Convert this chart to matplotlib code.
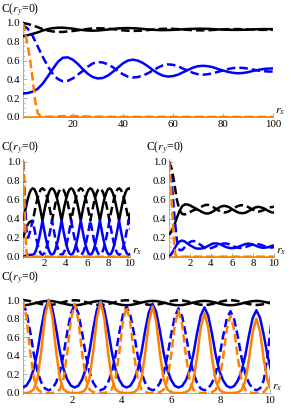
import numpy as np
import matplotlib
matplotlib.use("Agg")
import matplotlib.pyplot as plt
from matplotlib.ticker import MultipleLocator, FormatStrFormatter

plt.rcParams['font.family'] = ['Liberation Serif', 'DejaVu Serif']
plt.rcParams['mathtext.fontset'] = 'stix'

ORANGE = '#ff8000'

# ---------------- panel 1 : r_x from 0 to 100 ----------------
x1 = np.linspace(0, 100, 51)
bs1 = [0.86, 0.87, 0.885, 0.90, 0.92, 0.935, 0.945, 0.95, 0.95, 0.945, 0.94, 0.93, 0.925,
       0.92, 0.918, 0.92, 0.925, 0.93, 0.937, 0.942, 0.945, 0.946, 0.945, 0.942, 0.937,
       0.932, 0.928, 0.925, 0.924, 0.925, 0.927, 0.93, 0.933, 0.936, 0.938, 0.939, 0.939,
       0.938, 0.935, 0.932, 0.93, 0.928, 0.927, 0.927, 0.928, 0.93, 0.932, 0.934, 0.935,
       0.935, 0.934]
bd1 = [1.0, 0.99, 0.975, 0.955, 0.935, 0.92, 0.91, 0.905, 0.905, 0.91, 0.915, 0.922, 0.93,
       0.937, 0.942, 0.944, 0.943, 0.94, 0.935, 0.928, 0.922, 0.918, 0.916, 0.917, 0.92,
       0.925, 0.93, 0.935, 0.938, 0.939, 0.938, 0.935, 0.931, 0.927, 0.924, 0.922, 0.922,
       0.923, 0.926, 0.929, 0.932, 0.934, 0.935, 0.935, 0.934, 0.932, 0.93, 0.928, 0.927,
       0.927, 0.928]
ls1 = [0.25, 0.255, 0.27, 0.30, 0.355, 0.43, 0.51, 0.585, 0.63, 0.635, 0.61, 0.565, 0.51,
       0.46, 0.425, 0.41, 0.415, 0.44, 0.48, 0.525, 0.57, 0.6, 0.61, 0.6, 0.575, 0.54, 0.5,
       0.465, 0.44, 0.43, 0.435, 0.45, 0.475, 0.5, 0.525, 0.54, 0.545, 0.54, 0.53, 0.51,
       0.495, 0.48, 0.47, 0.465, 0.468, 0.477, 0.49, 0.5, 0.51, 0.515, 0.517]
ld1 = [0.98, 0.94, 0.86, 0.75, 0.64, 0.54, 0.46, 0.405, 0.38, 0.385, 0.41, 0.45, 0.49,
       0.535, 0.57, 0.585, 0.58, 0.56, 0.53, 0.49, 0.455, 0.43, 0.42, 0.425, 0.44, 0.465,
       0.495, 0.525, 0.55, 0.56, 0.555, 0.54, 0.515, 0.495, 0.47, 0.455, 0.45, 0.455, 0.465,
       0.48, 0.495, 0.51, 0.52, 0.525, 0.522, 0.515, 0.505, 0.495, 0.488, 0.484, 0.483]
xo1 = [0, 1, 2, 3, 4, 5, 6, 7, 8, 10, 15, 20, 25, 30, 40, 50, 60, 70, 80, 90, 100]
od1 = [1.0, 0.9, 0.76, 0.6, 0.4, 0.17, 0.04, 0.012, 0.004, 0.002, 0.008, 0.01, 0.006, 0.002,
       0.002, 0.002, 0.001, 0.001, 0.001, 0.001, 0.001]

# ---------------- panel 2 : r_x from 0 to 10 ----------------
x2 = np.linspace(0, 10.05, 68)
bs2 = [0.38, 0.468, 0.55, 0.62, 0.674, 0.708, 0.72, 0.708, 0.674, 0.62, 0.55, 0.468,
       0.38, 0.468, 0.55, 0.62, 0.674, 0.708, 0.72, 0.708, 0.674, 0.62, 0.55, 0.468,
       0.38, 0.468, 0.55, 0.62, 0.674, 0.708, 0.72, 0.708, 0.674, 0.62, 0.55, 0.468,
       0.38, 0.468, 0.55, 0.62, 0.674, 0.708, 0.72, 0.708, 0.674, 0.62, 0.55, 0.468,
       0.38, 0.468, 0.55, 0.62, 0.674, 0.708, 0.72, 0.708, 0.674, 0.62, 0.55, 0.468,
       0.38, 0.468, 0.55, 0.62, 0.674, 0.708, 0.72, 0.708]
bd2 = [0.2, 0.26, 0.31, 0.345, 0.365, 0.375, 0.38,
       0.468, 0.55, 0.62, 0.674, 0.708, 0.72, 0.708, 0.674, 0.62, 0.55, 0.468, 0.38,
       0.468, 0.55, 0.62, 0.674, 0.708, 0.72, 0.708, 0.674, 0.62, 0.55, 0.468, 0.38,
       0.468, 0.55, 0.62, 0.674, 0.708, 0.72, 0.708, 0.674, 0.62, 0.55, 0.468, 0.38,
       0.468, 0.55, 0.62, 0.674, 0.708, 0.72, 0.708, 0.674, 0.62, 0.55, 0.468, 0.38,
       0.468, 0.55, 0.62, 0.674, 0.708, 0.72, 0.708, 0.674, 0.62, 0.55, 0.468, 0.38,
       0.468]
ls2 = [0.0, 0.008, 0.014, 0.018, 0.02, 0.02, 0.02,
       0.032, 0.068, 0.125, 0.2, 0.287, 0.38, 0.287, 0.2, 0.125, 0.068, 0.032, 0.02,
       0.032, 0.068, 0.125, 0.2, 0.287, 0.38, 0.287, 0.2, 0.125, 0.068, 0.032, 0.02,
       0.032, 0.068, 0.125, 0.2, 0.287, 0.38, 0.287, 0.2, 0.125, 0.068, 0.032, 0.02,
       0.032, 0.068, 0.125, 0.2, 0.287, 0.38, 0.287, 0.2, 0.125, 0.068, 0.032, 0.02,
       0.032, 0.068, 0.125, 0.2, 0.287, 0.38, 0.287, 0.2, 0.125, 0.068, 0.032, 0.02,
       0.032]
ld2 = [1.0, 0.6, 0.28, 0.2, 0.25, 0.32, 0.38,
       0.287, 0.2, 0.125, 0.068, 0.032, 0.02, 0.032, 0.068, 0.125, 0.2, 0.287, 0.38,
       0.287, 0.2, 0.125, 0.068, 0.032, 0.02, 0.032, 0.068, 0.125, 0.2, 0.287, 0.38,
       0.287, 0.2, 0.125, 0.068, 0.032, 0.02, 0.032, 0.068, 0.125, 0.2, 0.287, 0.38,
       0.287, 0.2, 0.125, 0.068, 0.032, 0.02, 0.032, 0.068, 0.125, 0.2, 0.287, 0.38,
       0.287, 0.2, 0.125, 0.068, 0.032, 0.02, 0.032, 0.068, 0.125, 0.2, 0.287, 0.38,
       0.287]
xo2 = [0, 0.1, 0.2, 0.3, 0.4, 10]
od2 = [1.0, 0.62, 0.25, 0.06, 0.0, 0.0]

# ---------------- panel 3 : r_x from 0 to 10 ----------------
x3 = np.linspace(0, 10, 41)
bs3 = [0.23, 0.27, 0.33, 0.41, 0.48, 0.53, 0.55, 0.55, 0.54, 0.525, 0.51, 0.495, 0.48,
       0.465, 0.455, 0.455, 0.465, 0.48, 0.5, 0.515, 0.53, 0.535, 0.53, 0.52, 0.5, 0.485,
       0.47, 0.46, 0.458, 0.462, 0.475, 0.49, 0.505, 0.52, 0.525, 0.52, 0.51, 0.495, 0.48,
       0.468, 0.462]
bd3 = [1.0, 0.93, 0.78, 0.6, 0.49, 0.45, 0.445, 0.455, 0.47, 0.485, 0.495, 0.505, 0.52,
       0.535, 0.545, 0.545, 0.535, 0.52, 0.5, 0.485, 0.47, 0.465, 0.47, 0.48, 0.5, 0.515,
       0.53, 0.54, 0.542, 0.538, 0.525, 0.51, 0.495, 0.48, 0.475, 0.48, 0.49, 0.505, 0.515,
       0.522, 0.525]
ls3 = [0.0, 0.03, 0.08, 0.13, 0.16, 0.17, 0.16, 0.14, 0.12, 0.105, 0.09, 0.085, 0.085,
       0.09, 0.1, 0.115, 0.13, 0.14, 0.14, 0.135, 0.125, 0.11, 0.1, 0.092, 0.09, 0.093,
       0.1, 0.11, 0.122, 0.132, 0.137, 0.135, 0.127, 0.117, 0.105, 0.097, 0.094, 0.096,
       0.103, 0.112, 0.12]
ld3 = [1.0, 0.8, 0.45, 0.17, 0.07, 0.07, 0.1, 0.13, 0.155, 0.165, 0.16, 0.145, 0.125,
       0.105, 0.09, 0.085, 0.09, 0.1, 0.112, 0.125, 0.135, 0.14, 0.138, 0.13, 0.118, 0.105,
       0.096, 0.092, 0.094, 0.1, 0.11, 0.12, 0.13, 0.134, 0.132, 0.125, 0.115, 0.105,
       0.098, 0.096, 0.1]
xo3 = [0, 0.15, 0.3, 0.45, 0.6, 0.75, 10]
od3 = [1.0, 0.8, 0.5, 0.2, 0.03, 0.0, 0.0]

# ---------------- panel 4 : r_x from 0 to 10 ----------------
x4 = np.linspace(0, 10.05, 68)
bs4 = [0.944, 0.946, 0.953, 0.962, 0.972, 0.981, 0.988, 0.990, 0.988, 0.981, 0.972, 0.962, 0.953, 0.946,
       0.944, 0.946, 0.953, 0.962, 0.972, 0.981, 0.988, 0.990, 0.988, 0.981, 0.972, 0.962, 0.953, 0.946,
       0.944, 0.946, 0.953, 0.962, 0.972, 0.981, 0.988, 0.990, 0.988, 0.981, 0.972, 0.962, 0.953, 0.946,
       0.944, 0.946, 0.953, 0.962, 0.972, 0.981, 0.988, 0.990, 0.988, 0.981, 0.972, 0.962, 0.953, 0.946,
       0.944, 0.946, 0.953, 0.962, 0.972, 0.981, 0.988, 0.990, 0.988, 0.981, 0.972, 0.962]
bd4 = [0.997, 0.995, 0.988, 0.978, 0.966, 0.956, 0.949, 0.947, 0.949, 0.956, 0.966, 0.978, 0.988, 0.995,
       0.997, 0.995, 0.988, 0.978, 0.966, 0.956, 0.949, 0.947, 0.949, 0.956, 0.966, 0.978, 0.988, 0.995,
       0.997, 0.995, 0.988, 0.978, 0.966, 0.956, 0.949, 0.947, 0.949, 0.956, 0.966, 0.978, 0.988, 0.995,
       0.997, 0.995, 0.988, 0.978, 0.966, 0.956, 0.949, 0.947, 0.949, 0.956, 0.966, 0.978, 0.988, 0.995,
       0.997, 0.995, 0.988, 0.978, 0.966, 0.956, 0.949, 0.947, 0.949, 0.956, 0.966, 0.978]
ls4 = [0.06, 0.079, 0.145, 0.259, 0.449, 0.696, 0.905, 1.0, 0.905, 0.696, 0.449, 0.259, 0.145, 0.079,
       0.059, 0.078, 0.144, 0.257, 0.445, 0.689, 0.896, 0.99, 0.896, 0.689, 0.445, 0.257, 0.144, 0.078,
       0.059, 0.077, 0.141, 0.25, 0.432, 0.669, 0.869, 0.96, 0.869, 0.669, 0.432, 0.25, 0.141, 0.077,
       0.059, 0.076, 0.137, 0.241, 0.415, 0.642, 0.833, 0.92, 0.833, 0.642, 0.415, 0.241, 0.137, 0.076,
       0.058, 0.075, 0.134, 0.235, 0.403, 0.621, 0.806, 0.89, 0.806, 0.621, 0.403, 0.235]
ld4 = [0.97, 0.875, 0.666, 0.419, 0.229, 0.115, 0.049, 0.029,
       0.048, 0.113, 0.225, 0.411, 0.652, 0.857, 0.95, 0.857, 0.652, 0.411, 0.225, 0.113, 0.048, 0.029,
       0.047, 0.111, 0.22, 0.402, 0.639, 0.839, 0.93, 0.839, 0.639, 0.402, 0.22, 0.111, 0.047, 0.029,
       0.047, 0.109, 0.216, 0.394, 0.625, 0.821, 0.91, 0.821, 0.625, 0.394, 0.216, 0.109, 0.047, 0.029,
       0.046, 0.106, 0.209, 0.381, 0.605, 0.794, 0.88, 0.794, 0.605, 0.381, 0.209, 0.106, 0.046, 0.029,
       0.05, 0.14, 0.4, 0.75]
os4 = [0, 0, 0.01, 0.04, 0.16, 0.45, 0.82, 1.0, 0.82, 0.45, 0.16, 0.04, 0.01, 0, 0,
       0, 0.01, 0.04, 0.157, 0.441, 0.804, 0.98, 0.804, 0.441, 0.157, 0.039, 0.01, 0, 0,
       0, 0.009, 0.037, 0.149, 0.419, 0.763, 0.93, 0.763, 0.419, 0.149, 0.037, 0.009, 0, 0,
       0, 0.009, 0.034, 0.138, 0.387, 0.705, 0.86, 0.705, 0.387, 0.138, 0.034, 0.009, 0, 0,
       0, 0.008, 0.032, 0.128, 0.36, 0.656, 0.80, 0.656, 0.36, 0.128, 0.032]
od4 = [1.0, 0.82, 0.45, 0.16, 0.04, 0.01, 0, 0,
       0, 0.01, 0.038, 0.154, 0.432, 0.787, 0.96, 0.787, 0.432, 0.154, 0.038, 0.01, 0, 0,
       0, 0.009, 0.037, 0.149, 0.419, 0.763, 0.93, 0.763, 0.419, 0.149, 0.037, 0.009, 0, 0,
       0, 0.009, 0.036, 0.142, 0.4, 0.73, 0.89, 0.73, 0.4, 0.142, 0.036, 0.009, 0, 0,
       0, 0.008, 0.033, 0.133, 0.374, 0.681, 0.83, 0.681, 0.374, 0.133, 0.033, 0.008, 0, 0,
       0, 0.01, 0.06, 0.2]

yticks = [0.0, 0.2, 0.4, 0.6, 0.8, 1.0]
W, H = 291, 411


def make_axes(fig, left, right, y0, y1):
    # left/right: pixel x of r_x = 0 and r_x = max; y0/y1: pixel y of C = 0 and C = 1
    per = y0 - y1
    bot = y0 + 0.015 * per
    top = y1 - 0.025 * per
    return fig.add_axes([left / W, 1 - bot / H, (right - left) / W, (bot - top) / H])


def style(ax, xmax, major, minor):
    ax.set_xlim(0, xmax)
    ax.set_ylim(-0.015, 1.025)
    ax.patch.set_alpha(0)
    ax.set_axisbelow(True)
    for s in ['top', 'right']:
        ax.spines[s].set_visible(False)
    ax.spines['bottom'].set_position(('data', 0))
    for s in ['left', 'bottom']:
        ax.spines[s].set_color('#a0a0a0')
        ax.spines[s].set_linewidth(0.6)
        ax.spines[s].set_zorder(1)
    ax.set_yticks(yticks)
    ax.yaxis.set_major_formatter(FormatStrFormatter('%.1f'))
    ax.yaxis.set_minor_locator(MultipleLocator(0.05))
    ax.set_xticks(major)
    ax.xaxis.set_minor_locator(MultipleLocator(minor))
    ax.tick_params(which='major', direction='in', length=3, width=0.5, color='#909090',
                   labelsize=7.8, pad=2)
    ax.tick_params(which='minor', direction='in', length=1.5, width=0.4, color='#909090')
    ax.annotate(r'$r_x$', xy=(xmax, 0), xycoords='data', xytext=(1.5, 0),
                textcoords='offset points', ha='left', va='bottom', fontsize=8.5)


def curves(ax, x, bs, bd, ls, ld, xo, od, os_=None, xs=None):
    kw = dict(lw=1.8, solid_capstyle='butt', zorder=3)
    ax.plot(x, bs, color='black', **kw)
    ax.plot(x, bd, color='black', dashes=(3.4, 1.6), **kw)
    ax.plot(x, ls, color='blue', **kw)
    ax.plot(x, ld, color='blue', dashes=(3.4, 1.6), **kw)
    if os_ is None:
        ax.plot([0, x[-1]], [0, 0], color=ORANGE, **kw)
    else:
        ax.plot(xs, os_, color=ORANGE, **kw)
    ax.plot(xo, od, color=ORANGE, dashes=(3.4, 1.6), **kw)


fig = plt.figure(figsize=(W / 100, H / 100), dpi=100)

ax1 = make_axes(fig, 22.7, 273, 117, 23)
curves(ax1, x1, bs1, bd1, ls1, ld1, xo1, od1)
style(ax1, 100, [20, 40, 60, 80, 100], 5)

ax2 = make_axes(fig, 23.3, 129.7, 256.7, 161.7)
curves(ax2, x2, bs2, bd2, ls2, ld2, xo2, od2)
style(ax2, 10, [2, 4, 6, 8, 10], 0.5)

ax3 = make_axes(fig, 169, 274, 256.7, 161.7)
curves(ax3, x3, bs3, bd3, ls3, ld3, xo3, od3)
style(ax3, 10, [2, 4, 6, 8, 10], 0.5)

ax4 = make_axes(fig, 22.7, 270, 393, 300)
curves(ax4, x4, bs4, bd4, ls4, ld4, x4, od4, os4, x4)
style(ax4, 10, [2, 4, 6, 8, 10], 0.5)

label = r'C($r_y$=0)'
fig.text(1 / W, 1 - 1.5 / H, label, fontsize=8.5, va='top', ha='left')
fig.text(1 / W, 1 - 138.5 / H, label, fontsize=8.5, va='top', ha='left')
fig.text(146 / W, 1 - 138.5 / H, label, fontsize=8.5, va='top', ha='left')
fig.text(1 / W, 1 - 268.5 / H, label, fontsize=8.5, va='top', ha='left')

fig.savefig('out.png', dpi=100)
